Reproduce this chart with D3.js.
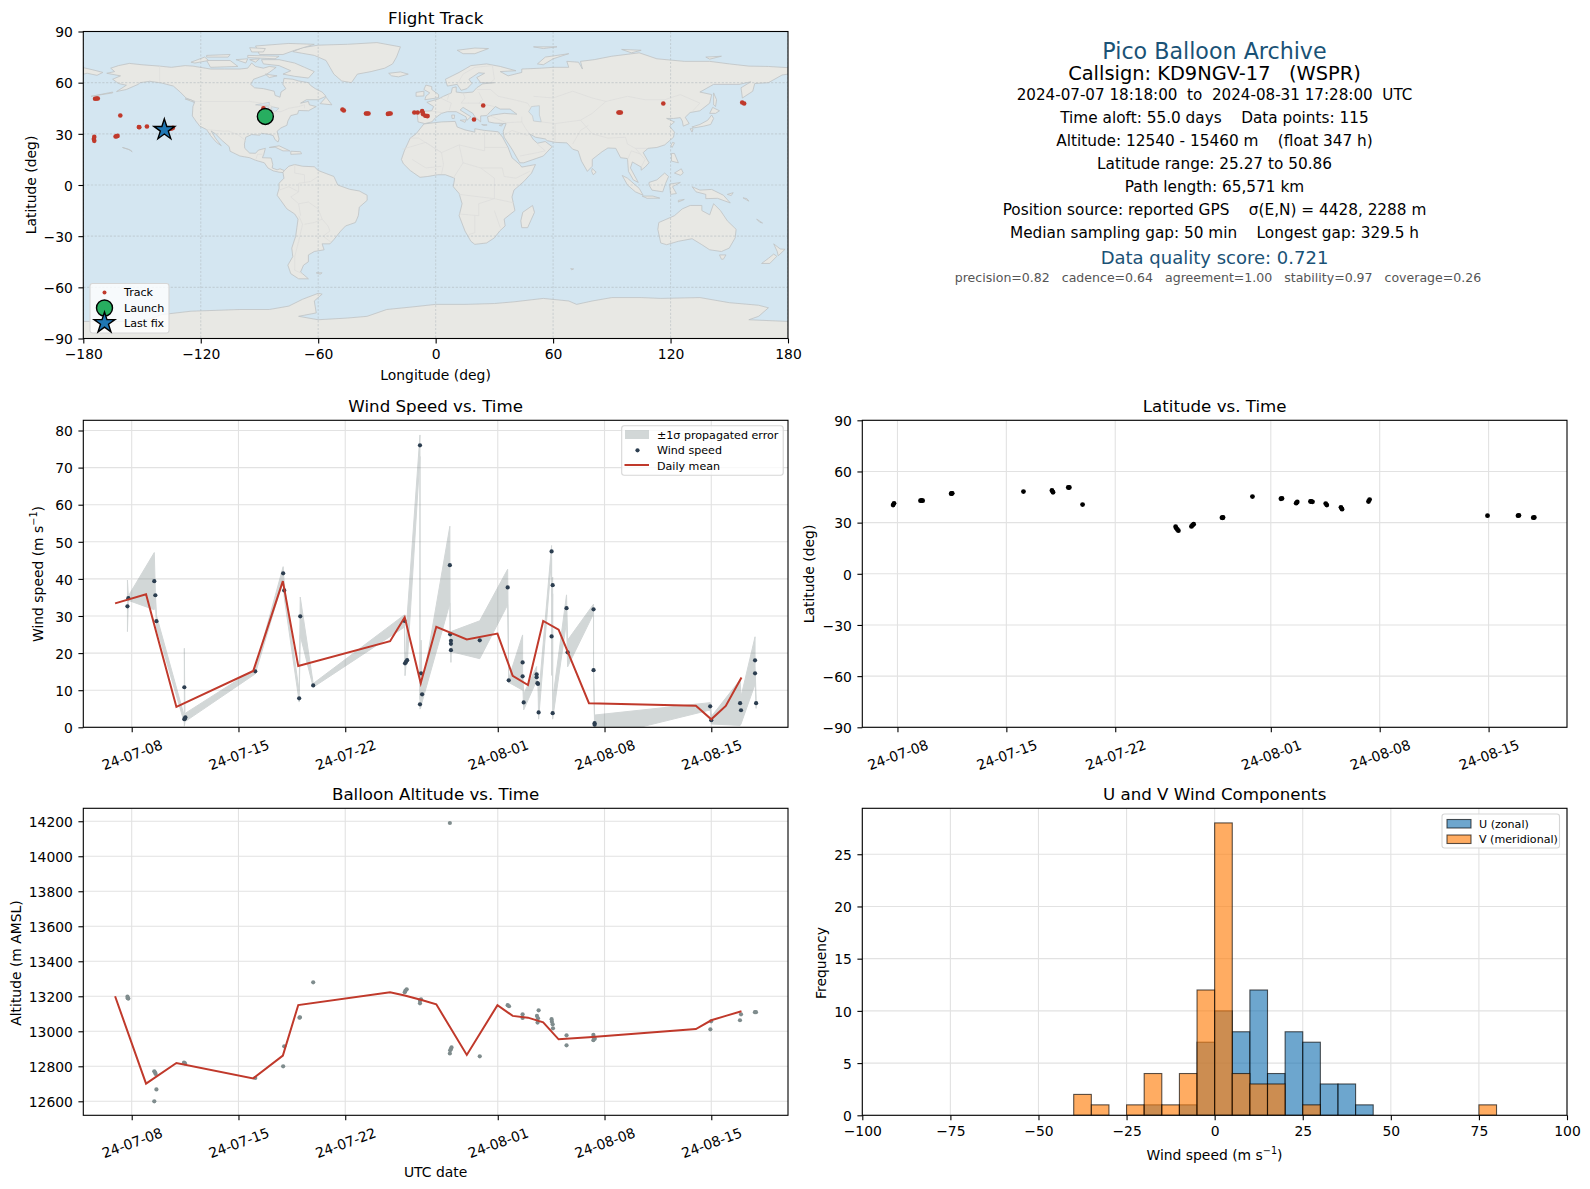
<!DOCTYPE html>
<html>
<head>
<meta charset="utf-8">
<script src="https://cdn.jsdelivr.net/npm/d3@7"></script>
<style>
  body { margin: 0; background: #fff; }
  text { font-family: "DejaVu Sans", sans-serif; fill: #000; white-space: pre; }
</style>
</head>
<body>
<div id="chart"></div>
<script>
// day numbers are days after 2024-07-01 00:00 UTC
const timeTicks = [7, 14, 21, 31, 38, 45];
const timeDomain = [3.826, 50.03];
const latTimeDomain = [4.74, 50.04];

// wind speed, one entry per fix
const windDay = [6.72, 6.78, 8.48, 8.55, 8.62, 10.45, 10.45, 10.49, 10.52, 15.1, 16.93, 17, 17.98, 18.05, 18.9, 24.88, 24.92, 24.99, 25.06, 25.9, 25.9, 25.97, 26.04, 27.86, 27.88, 27.93, 27.93, 27.93, 29.82, 31.65, 31.72, 32.63, 32.63, 32.7, 33.55, 33.55, 33.6, 33.64, 33.68, 34.53, 34.53, 34.6, 34.6, 35.51, 35.58, 37.28, 37.28, 37.35, 37.35, 44.93, 45, 46.89, 46.95, 47.87, 47.87, 47.94];
const windSpeed = [32.6, 34.8, 39.4, 35.6, 28.6, 2.2, 10.8, 2.4, 2.7, 15.1, 41.5, 36.9, 7.8, 29.9, 11.3, 28.7, 17.25, 17.7, 18.1, 76, 6.2, 14.55, 8.9, 43.7, 25.07, 23.3, 20.8, 22.5, 23.45, 37.7, 12.67, 17.5, 13.75, 6.7, 14.3, 13.5, 11.9, 11.7, 4, 47.4, 24.5, 38.3, 3.8, 32.1, 20.2, 31.8, 15.4, 1.1, 0.7, 5.66, 1.9, 6.5, 4.6, 18.06, 14.55, 6.5];
const windLow = [25.8, 34.2, 31.7, 34.8, 27, 1.2, 0.3, 1.4, 1.6, 14.4, 39.7, 35, 6.8, 24.7, 10.8, 27, 13.9, 17, 17, 73, 4.9, 5.5, 6.8, 33.4, 24, 22, 17.5, 20.4, 18.5, 33, 12.1, 10, 12.9, 4.7, 12.6, 12.6, 11.2, 11, 2.2, 45.5, 14, 36, 2.2, 28.5, 16.3, 30.6, 15, 0.2, -3, 4.67, 0.9, 0.5, 0.9, 11.6, 12.6, 5.1];
const windHigh = [39.7, 35.4, 47.1, 36.4, 30.2, 3, 21.3, 3.4, 3.8, 15.8, 43.3, 38.8, 9.6, 35.1, 11.8, 30.3, 20.6, 18.4, 30, 78.8, 7.5, 23.5, 10.8, 54.2, 26, 24.5, 24, 25.8, 28.7, 42.6, 13.2, 24.9, 14.6, 9, 16.4, 14.4, 12.6, 12.4, 8.3, 49, 35.2, 40.5, 7.4, 35.7, 23.5, 33.2, 15.9, 2, 3.3, 6.65, 2.9, 12.8, 8.3, 24.4, 16.5, 7.8];
const meanDay = [5.91, 7.94, 9.93, 14.97, 16.91, 17.92, 23.94, 24.9, 25.95, 26.97, 28.97, 30.98, 31.98, 32.98, 33.98, 34.99, 36.98, 43.99, 45, 45.95, 46.98];
const windMean = [33.4, 35.85, 5.5, 15.2, 39.4, 16.5, 23.2, 29.65, 11.9, 27.1, 23.7, 25.25, 13.9, 11.4, 28.66, 26.3, 6.5, 5.84, 2.15, 5.75, 13.4];
const windTicks = [0, 10, 20, 30, 40, 50, 60, 70, 80];

// latitude
const latDay = [6.72, 6.78, 8.48, 8.55, 8.62, 10.45, 10.49, 10.52, 15.1, 16.93, 17, 17.98, 18.05, 18.9, 24.88, 24.92, 24.99, 25.06, 25.9, 25.97, 26.04, 27.86, 27.9, 27.93, 29.82, 31.65, 31.72, 32.63, 32.7, 33.55, 33.6, 33.68, 34.53, 34.6, 35.51, 35.58, 37.28, 37.35, 44.93, 46.89, 46.95, 47.87, 47.94];
const latValue = [40.3, 41.3, 42.9, 43, 42.9, 47, 47.1, 47.2, 48.2, 48.9, 47.8, 50.6, 50.6, 40.6, 27.6, 26.8, 26, 25.3, 27.8, 28.5, 29.1, 32.9, 32.8, 33, 45.3, 44, 44.2, 41.4, 42.1, 42.4, 42.5, 42.2, 41.2, 40.3, 39, 37.9, 42.4, 43.5, 34.1, 34.1, 34.2, 32.9, 33];
const latTicks = [-90, -60, -30, 0, 30, 60, 90];

// altitude
const altDay = [6.72, 6.74, 6.78, 8.48, 8.53, 8.57, 8.62, 8.48, 10.49, 10.43, 15.1, 17, 16.93, 18.03, 18, 18.9, 24.9, 24.95, 25.03, 25.97, 25.9, 25.9, 27.86, 27.86, 27.88, 27.93, 27.97, 29.82, 31.65, 31.74, 32.63, 32.63, 33.57, 33.64, 33.61, 33.68, 34.53, 34.55, 34.6, 34.62, 35.51, 35.51, 37.27, 37.3, 37.27, 37.36, 44.94, 44.99, 46.88, 46.95, 47.86, 47.93];
const altValue = [13198, 13189, 13187, 12771, 12764, 12756, 12668, 12600, 12817, 12821, 12733, 12914, 12800, 13080, 13078, 13280, 13223, 13232, 13240, 13183, 13175, 13160, 14190, 12873, 12891, 12899, 12908, 12857, 13149, 13143, 13097, 13076, 13088, 13074, 13050, 13120, 13069, 13055, 13040, 13017, 12977, 12920, 12979, 12966, 12949, 12958, 13011, 13057, 13063, 13097, 13109, 13109];
const altMean = [13200, 12701, 12819, 12731, 12861, 13150, 13223, 13204, 13180, 13154, 12865, 13149, 13088, 13078, 13051, 12954, 12966, 13013, 13063, 13088, 13114];
const altTicks = [12600, 12800, 13000, 13200, 13400, 13600, 13800, 14000, 14200];

// wind component histogram, bins of 5 m/s starting at binStart
const binStart = [-100, -95, -90, -85, -80, -75, -70, -65, -60, -55, -50, -45, -40, -35, -30, -25, -20, -15, -10, -5, 0, 5, 10, 15, 20, 25, 30, 35, 40, 45, 50, 55, 60, 65, 70, 75, 80, 85, 90, 95];
const uCount = [0, 0, 0, 0, 0, 0, 0, 0, 0, 0, 0, 0, 0, 0, 0, 0, 1, 0, 1, 7, 10, 8, 12, 4, 8, 7, 3, 3, 1, 0, 0, 0, 0, 0, 0, 0, 0, 0, 0, 0];
const vCount = [0, 0, 0, 0, 0, 0, 0, 0, 0, 0, 0, 0, 2, 1, 0, 1, 4, 1, 4, 12, 28, 4, 3, 3, 0, 1, 0, 0, 0, 0, 0, 0, 0, 0, 0, 1, 0, 0, 0, 0];
const histXTicks = [-100, -75, -50, -25, 0, 25, 50, 75, 100];
const histYTicks = [0, 5, 10, 15, 20, 25];

// flight track
const trackLon = [-174, -173.2, -172.6, -161.1, -151.6, -151.4, -147.5, -135.4, -134.9, -134.2, -174.4, -174.6, -174.4, -163.5, -163, -162.5, -88, -47.6, -46.9, -35.6, -35, -34.3, -24.4, -23.7, -23, -10.9, -9.2, -6.9, -6.6, -6.4, -5.3, -4.6, -4.1, 19.6, 24.3, 93.4, 94, 94.6, 116.3, 156.6, 157.6];
const trackLat = [50.6, 50.7, 50.7, 40.75, 34, 33.9, 34.3, 33.1, 33.1, 33.5, 28.2, 27, 25.9, 28.4, 28.6, 28.8, 44.9, 44.3, 43.7, 41.9, 41.9, 41.9, 41.7, 41.9, 41.9, 42.5, 42.5, 43.3, 42.4, 41.5, 40.6, 40.5, 40.4, 38.4, 46.6, 42.5, 42.5, 42.5, 47.8, 48.4, 47.8];
const launchLon = [-87], launchLat = [40.2];
const lastLon = [-138.6], lastLat = [32.35];
const lonTicks = [-180, -120, -60, 0, 60, 120, 180];

// rough coastlines, [lon, lat]
const landShapes = [
  [[-168,65.5],[-164,66.5],[-166,68.5],[-162,70],[-156.5,71.3],[-150,70.5],[-141,69.7],[-135,69],[-128,70],[-124,69.7],[-115,68],[-108,68],[-100,68],[-96,68.5],[-94,71.5],[-92,69.5],[-88,68.5],[-85,69.5],[-81.5,69],[-85,66],[-87,64.5],[-93,62],[-94.5,59],[-92.5,57],[-88,56.5],[-82.5,55],[-82,52.5],[-79.5,51.5],[-79,54.5],[-76.5,56.5],[-78,59],[-77.5,62.5],[-73,62],[-70,61],[-65,60],[-64,58.5],[-61.5,56.5],[-58,54.5],[-56,52],[-60,50],[-66,50],[-69,48],[-65,49],[-64.5,47],[-61,46],[-65,43.5],[-70,43.7],[-70.5,41.7],[-74,40.7],[-75.5,37.5],[-76,35],[-79,33.5],[-81,31.5],[-80,27],[-80.5,25.2],[-82,26.5],[-83,29],[-85,29.7],[-89,30.3],[-90,29.2],[-94,29.6],[-97,28],[-97.7,24],[-97.5,21.5],[-95,18.7],[-92,18.6],[-90.5,20.5],[-87,21.5],[-87.8,18],[-88.5,16],[-84,15.8],[-83.2,12],[-83.5,10],[-81,8.9],[-79.5,9.5],[-77.3,8.5],[-78,7.3],[-80,7.5],[-83,8.3],[-85.7,10],[-87.5,13],[-92,14.5],[-95,16],[-100,17],[-105,19.8],[-105.5,22.5],[-109,26],[-112.5,30],[-114.7,31.7],[-112.5,27.5],[-109.5,23],[-112,25],[-115,29],[-117,32.5],[-120.5,34.5],[-122.5,37.5],[-124.3,40.5],[-124,46],[-123,49],[-127.5,51],[-130.5,54.5],[-134,58],[-140,59.8],[-146,60.8],[-151,60],[-152,59],[-158,56],[-163,54.8],[-158,58.5],[-162,59.5],[-165,62],[-161,64]],
  [[-73,78.2],[-68,80.5],[-60,82],[-45,82.5],[-30,83.5],[-18,81],[-20,75],[-22,71],[-26,68.5],[-33,66.5],[-40,65],[-43,60],[-48,61],[-52,65],[-54,69],[-56,73],[-62,76]],
  [[-80,73.5],[-72,71.5],[-67,69],[-62,66.5],[-65,62.7],[-72,63.7],[-78,65],[-74,67],[-80,70],[-88,71],[-89,73.5]],
  [[-117,73],[-105,73],[-101,69.5],[-115,69]],
  [[-125,72],[-118,75],[-116,73],[-123,71.5]],
  [[-90,76.5],[-78,76.5],[-72,79],[-62,82.5],[-75,83],[-92,81.5]],
  [[-96,76],[-80,75.5],[-82,74],[-96,74.7]],
  [[-117,76],[-105,76.5],[-106,75],[-117,75]],
  [[-95,80.5],[-87,80],[-88,78],[-94,78]],
  [[-87,65],[-81,64],[-85,63]],
  [[-102,73.5],[-96,74],[-97,71.5]],
  [[-95,73.5],[-90,74],[-92,72]],
  [[-128,50.5],[-125,50],[-123.5,48.5]],
  [[-176,52],[-165,54.5],[-165,54]],
  [[-59,47.7],[-56,51.5],[-53,47]],
  [[-85,22],[-80,23],[-74.5,20],[-78,20],[-82,22.2]],
  [[-74,19.8],[-69,19.5],[-68.5,18.3],[-74,18]],
  [[-160,22],[-157,21],[-155,19.5],[-156,20.5]],
  [[-77.3,8.5],[-75,11],[-72,12],[-68,11],[-62,10.7],[-60,8.5],[-52,5],[-50,0],[-44,-2.5],[-39,-3.5],[-35,-6],[-35,-9],[-39,-13],[-39.5,-18],[-41,-22],[-46,-24],[-48.5,-27],[-52,-32],[-54,-34.5],[-58,-34.5],[-57,-38],[-62,-39],[-65,-41],[-65,-45],[-67.5,-47],[-69,-51],[-65,-55],[-70,-55],[-74,-52],[-75.5,-47],[-73,-42],[-73.5,-37],[-71.5,-30],[-70.3,-20],[-72,-17],[-76,-14],[-81,-6],[-80,-2],[-80,1],[-77.5,4],[-78,7.3]],
  [[-61,-51.5],[-58,-51.5],[-59,-52.3]],
  [[-6,35.8],[3,37],[10,37.3],[11,34],[15,32.3],[20,31],[20,33],[25,32],[32,31.2],[34.2,28],[37,22],[39,16],[43,12],[44,10.5],[51,12],[49,7],[45,2],[40,-3],[39,-7],[40.5,-15],[35,-20],[35.5,-24],[32.7,-27],[30,-31],[26,-34],[20,-34.8],[18,-33],[15,-27],[12,-18],[13.5,-11],[12,-5],[9,-1],[9.7,4],[5,6],[1,6],[-4,5],[-8,4.5],[-13,8.5],[-16.5,12.5],[-17.5,15],[-16,20],[-13,27.5],[-10,30]],
  [[-9,37],[-9.5,43],[-2,43.5],[-1,46],[-4.5,48.5],[1.5,50.5],[4,52],[8,54],[8.5,57],[10.5,57.5],[10.5,54.5],[14,54],[19,54.5],[21,57],[24,59.3],[30,60],[23,60],[21,63],[25,65.5],[22,65.8],[17,62],[18.5,59.5],[16,56.5],[13,55.5],[11,59],[6,58],[5,62],[12,66],[18,70],[26,71],[33,69.5],[41,67],[33,66.5],[37,64],[44,66],[44,68],[54,68.5],[60,69],[68,69],[67,72.5],[73,72],[75,68],[74,72.5],[81,73.5],[90,75.5],[104,77.5],[113,74],[127,72.5],[140,72.5],[150,71],[160,69.7],[170,69.5],[180,68.8],[180,65],[177,64.5],[170,60],[163,59.5],[162,55],[156.7,51],[156,57],[161,60.5],[155,59],[142,59],[135,54.5],[141,53],[140,48],[135,43.5],[130,42.5],[127.5,39.7],[129.5,36],[126.5,34.5],[126,37.5],[125,39.5],[121.5,39],[118,39],[122,37],[119.5,34.5],[122,31],[121.5,28],[117,23.5],[113,22],[108.5,21.5],[106,19],[109,13],[107,10.5],[105,8.7],[105,10.5],[100.5,13.5],[99.5,10],[103.5,1.5],[101,3],[98.5,8],[98,15.5],[94.5,16],[92,21.5],[88,21.7],[85,19.5],[80,15],[80,11],[77.5,8],[74.5,14],[72.8,20],[70,21],[67,24.7],[61,25],[57,26],[56,27],[51,28],[48,30],[50,26.5],[52,24.5],[56,25.5],[59.5,22.5],[55,17],[45,13],[43,13],[39,21],[35,28],[34.5,31.5],[36,36],[30,36.3],[27,37],[26.5,40],[29,41],[35,42],[41.5,41.5],[38,44.5],[33,44.5],[30.5,46],[28,43],[26,40.7],[23,40.5],[23,37],[20,40],[19,42],[14,45.5],[12.5,44],[18,40],[16,38],[15.5,40],[10.5,43],[6,43],[3,42],[0,39.5],[-2,37],[-5.5,36]],
  [[-180,68.8],[-175,67.5],[-170,66],[-173,64.3],[-178,65.5],[-180,65]],
  [[-5.5,50],[1.5,51.2],[1.5,53],[-2,56],[-2,57.7],[-5,58.6],[-6,56],[-3,54],[-5,52]],
  [[-10,52],[-6,52.2],[-6,55],[-10,54.3]],
  [[-24,65.5],[-18,66.3],[-14,65],[-19,63.4],[-22.5,64]],
  [[11,79],[20,80.3],[27,80],[20,77],[14,77]],
  [[52,71],[56,75],[68,77],[60,74],[55,70.5]],
  [[138,75],[146,75.5],[140,73.8]],
  [[95,79.5],[105,79],[100,77.5]],
  [[50,81],[62,81],[55,80]],
  [[8.2,41],[9.7,41],[9.5,39],[8.4,39]],
  [[12.5,38],[15.6,38.2],[15,36.7]],
  [[23.5,35.5],[26.3,35.2],[24.5,34.9]],
  [[32.5,35],[34.5,35.6],[33.5,34.6]],
  [[49.5,-12],[50.5,-16],[47,-25],[44,-25],[43.5,-21],[44.5,-16]],
  [[69,-49],[70.5,-49.2],[69.5,-49.8]],
  [[80,9.7],[82,7.5],[80.5,6],[79.7,8]],
  [[130.9,34],[135,35.5],[139,38],[141,41],[142,39],[140.5,35.5],[137,34.5],[132,33.5]],
  [[130,33],[131.5,33],[131,31]],
  [[140,42],[141.5,45.5],[145,43.5],[143,42]],
  [[142,54],[143.5,50],[143,46],[142,47],[142,52]],
  [[121,25],[122,24.7],[120.8,22],[120.2,23]],
  [[120.5,18.5],[122,18.5],[124,13],[120.5,14]],
  [[122,7],[125.5,9.5],[126.5,7],[125,5.7]],
  [[95.3,5.6],[98,4],[104,-2],[106,-6],[102,-4],[98,0]],
  [[105.5,-6.5],[111,-6.5],[114.5,-7.7],[108,-7.8]],
  [[109,1.5],[113,3],[117,7],[119,5],[117.5,1],[116,-4],[110.5,-3],[109,0]],
  [[119.5,0.5],[125,1.5],[121,-1],[123,-5],[120,-5.5]],
  [[124,-9],[127,-8.5],[124,-10]],
  [[131,-1],[135,-3],[141,-2.6],[147,-6],[150.5,-10.5],[144,-7.8],[138,-8],[138,-5.5],[133,-4]],
  [[149,-5.5],[152,-4.5],[151,-6.2]],
  [[157,-7.5],[160,-9.5],[159,-8]],
  [[164,-20],[167,-22.3],[165.5,-21.8]],
  [[114,-22],[122,-18],[126,-14],[130,-12],[136,-12],[136,-15],[140,-17.5],[142,-11],[145.5,-15],[149,-21],[153.5,-26],[153,-31],[150,-37],[146,-39],[140,-38],[136,-35],[131,-31.5],[124,-33],[118,-35],[115,-34],[113.5,-26]],
  [[145,-41],[148.3,-41],[147,-43.5],[146,-43.5]],
  [[172.7,-34.5],[176,-37.5],[178.5,-37.7],[175,-41.5],[174.5,-39]],
  [[172.7,-40.5],[174.3,-41.8],[170.7,-46],[166.5,-46],[170,-43]],
  [[-180,-80],[-150,-80],[-140,-76],[-125,-74],[-100,-73],[-85,-73],[-75,-71],[-68,-67],[-60,-63.5],[-58,-64],[-62,-68],[-61,-75],[-70,-77],[-60,-79],[-45,-78],[-35,-77],[-25,-73],[-12,-71.5],[0,-70],[15,-70],[30,-69.5],[40,-68.5],[55,-66.5],[68,-68],[72,-70],[80,-68],[90,-66],[105,-66],[115,-66.5],[135,-66],[150,-69],[165,-70.5],[170,-72],[165,-77],[160,-79],[180,-80],[180,-90],[-180,-90]]
];
const lakeShapes = [
  [[49,46],[53,46.5],[53,41],[54,37],[50,37.5],[49.5,40.5],[47.5,43]],
  [[-92,47],[-85,48.5],[-85,46.7],[-90,46.7]],
  [[-87.5,46],[-85,45.8],[-86,42],[-87.5,42]],
  [[-84,46],[-80,45],[-82,43],[-84,44]]
];
const borderLines = [
  [[-123,49],[-95,49],[-89,48],[-84,46.5],[-82.5,43],[-79,43],[-75,45],[-70,46],[-67,47],[-67,45]],
  [[-141,69.7],[-141,60]],
  [[-117,32.5],[-108,31.5],[-106,31.7],[-101,29.5],[-97,26]],
  [[-92,14.5],[-91,18],[-88.5,18]],
  [[-60,5],[-64,2],[-70,1],[-70,-4],[-74,-7],[-70,-11],[-65,-10],[-60,-14],[-58,-20],[-55,-24],[-54,-27],[-57.5,-30],[-53.5,-33.5]],
  [[-70,-18],[-68,-23],[-70,-33],[-72,-42],[-72,-50],[-68,-52]],
  [[-70,-11],[-69,-18]],
  [[-58,-20],[-62,-22],[-67,-23]],
  [[-80,-3],[-75,-1],[-70,-4]],
  [[-72,12],[-72,7],[-67,6],[-67,1]],
  [[-8.7,27.5],[3,19],[12,23.5],[25,20],[25,31.5]],
  [[25,22],[37,22]],
  [[3,19],[4,12],[3,6.5]],
  [[12,23.5],[14,13],[9,4]],
  [[14,13],[23,10],[34,10],[35,5],[41,4],[48,8]],
  [[23,10],[30,4],[30,-8],[12,-5.5]],
  [[30,-8],[22,-11],[22,-18],[12,-17]],
  [[20,-18],[20,-28],[17,-29]],
  [[40,-10.5],[30,-8]],
  [[30,-15],[33,-25]],
  [[-13,27.5],[-8.7,27.5]],
  [[-17,21],[-5,25],[3,19]],
  [[-12,15],[-5,10],[3,11]],
  [[28,56],[32,52],[40,50],[47,48],[48,46]],
  [[50,52],[60,51],[70,55],[80,51],[87,49]],
  [[87,49],[98,52],[107,50],[117,50],[125,53],[135,48],[131,43]],
  [[74,38],[80,30],[88,27.5],[97,28],[98,24],[102,21.5],[108,21.5]],
  [[74,38],[80,42],[87,49]],
  [[61,25],[61,36],[54,37]],
  [[61,36],[74,38]],
  [[70,24],[74,32],[78,35]],
  [[26,41.5],[36,36.5],[44,37],[44,40]],
  [[44,37],[46,33],[48,30]],
  [[35,29],[39,32],[47,29]],
  [[52,24],[56,20],[52,19],[43,17]],
  [[-2,43.3],[3,42.5]],
  [[2.5,51],[8,48],[7,44]],
  [[7,54],[6,50]],
  [[14,54],[15,51],[13,48],[17,48],[22,48],[30,46]],
  [[22,54.5],[24,50],[22,48]],
  [[28,56],[21,56]],
  [[11,59],[14,65],[20,69],[29,70],[30,62],[28,60]],
  [[102,21.5],[107,15],[105,10.5]],
  [[98,15],[100,20],[105,18]]
];

// summary panel
const infoLines = [
  ["Pico Balloon Archive", 22.2, "#1a5276", 50.6, 1214.5],
  ["Callsign: KD9NGV-17   (WSPR)", 19.4, "#000", 73.3, 1214.5],
  ["2024-07-07 18:18:00  to  2024-08-31 17:28:00  UTC", 15.15, "#000", 94.8, 1214.5],
  ["Time aloft: 55.0 days    Data points: 115", 15.3, "#000", 117.6, 1214.5],
  ["Altitude: 12540 - 15460 m    (float 347 h)", 15.3, "#000", 140.7, 1214.5],
  ["Latitude range: 25.27 to 50.86", 15.3, "#000", 163.8, 1214.5],
  ["Path length: 65,571 km", 15.3, "#000", 186.7, 1214.5],
  ["Position source: reported GPS    σ(E,N) = 4428, 2288 m", 15.3, "#000", 209.8, 1214.5],
  ["Median sampling gap: 50 min    Longest gap: 329.5 h", 15.3, "#000", 232.8, 1214.5],
  ["Data quality score: 0.721", 18, "#1a5276", 257.3, 1214.5],
  ["precision=0.82   cadence=0.64   agreement=1.00   stability=0.97   coverage=0.26", 12.55, "#555", 277.5, 1218]
];

const RED = "#c0392b", NAVY = "#2c3e50", GRAY = "#7f8c8d";
const dayToDate = (d) => new Date(Date.UTC(2024, 6, 1) + d * 864e5);
const minus = (s) => String(s).replace("-", "\u2212");
const zipXY = (a, b) => a.map((v, i) => [v, b[i]]);

const svg = d3.select("#chart").append("svg").attr("width", 1590).attr("height", 1189);

// one set of axes; returns the group and scales, ticks are styled the matplotlib way
function panel(name, box, xScale, yScale, opts) {
  xScale.range([box.x, box.x + box.w]);
  yScale.range([box.y + box.h, box.y]);
  const g = svg.append("g").attr("class", name);
  const clipId = "clip-" + name;
  svg.append("clipPath").attr("id", clipId).append("rect")
    .attr("x", box.x).attr("y", box.y).attr("width", box.w).attr("height", box.h);

  const back = g.append("g");
  const plot = g.append("g").attr("clip-path", `url(#${clipId})`);
  const dash = opts.gridDash || null;

  const drawGrid = (target) => {
    target.selectAll(".vgrid").data(opts.xTicks).enter().append("line").attr("class", "vgrid")
      .attr("x1", (d) => xScale(opts.xVal(d))).attr("x2", (d) => xScale(opts.xVal(d)))
      .attr("y1", box.y).attr("y2", box.y + box.h)
      .attr("stroke", opts.gridColor || "#e2e2e2").attr("stroke-width", 1.1).attr("stroke-dasharray", dash);
    target.selectAll(".hgrid").data(opts.yTicks).enter().append("line").attr("class", "hgrid")
      .attr("y1", (d) => yScale(d)).attr("y2", (d) => yScale(d))
      .attr("x1", box.x).attr("x2", box.x + box.w)
      .attr("stroke", opts.gridColor || "#e2e2e2").attr("stroke-width", 1.1).attr("stroke-dasharray", dash);
  };

  const front = g.append("g");
  const xAxis = d3.axisBottom(xScale).tickValues(opts.xTicks.map(opts.xVal)).tickFormat(opts.xFormat).tickSize(4.9).tickPadding(6);
  const yAxis = d3.axisLeft(yScale).tickValues(opts.yTicks).tickFormat(minus).tickSize(4.9).tickPadding(5.5);
  const xg = front.append("g").attr("transform", `translate(0,${box.y + box.h})`).call(xAxis);
  const yg = front.append("g").attr("transform", `translate(${box.x},0)`).call(yAxis);
  front.selectAll(".domain").remove();
  front.selectAll(".tick line").attr("stroke", "#000").attr("stroke-width", 1.1);
  front.selectAll(".tick text").attr("font-size", 13.9).attr("font-family", "DejaVu Sans").attr("fill", "#000");
  yg.selectAll(".tick text").attr("dy", "0.38em");
  if (opts.rotate) {
    xg.selectAll(".tick text")
      .attr("text-anchor", "middle")
      .attr("dy", null)
      .attr("y", null)
      .attr("dominant-baseline", "central")
      .attr("transform", "translate(0,27.5) rotate(-20)");
  }
  front.append("rect").attr("x", box.x).attr("y", box.y).attr("width", box.w).attr("height", box.h)
    .attr("fill", "none").attr("stroke", "#000").attr("stroke-width", 1.1);
  front.append("text").attr("x", box.x + box.w / 2).attr("y", box.y - 8).attr("text-anchor", "middle")
    .attr("font-size", 16.67).text(opts.title);

  return { g, back, plot, front, drawGrid, box };
}

function yLabel(x, yMid, text, sup) {
  const t = svg.append("text").attr("transform", `translate(${x},${yMid}) rotate(-90)`)
    .attr("text-anchor", "middle").attr("font-size", 13.9).attr("dominant-baseline", "central").text(text);
  if (sup) t.append("tspan").attr("font-size", 9.7).attr("dy", -5).text(sup).call(closeParen);
}
function closeParen(sel) {
  const parent = d3.select(sel.node().parentNode);
  parent.append("tspan").attr("dy", 5).text(")");
}
function xLabel(xMid, y, text, sup) {
  const t = svg.append("text").attr("x", xMid).attr("y", y).attr("text-anchor", "middle")
    .attr("font-size", 13.9).attr("dominant-baseline", "central").text(text);
  if (sup) t.append("tspan").attr("font-size", 9.7).attr("dy", -5).text(sup).call(closeParen);
}

function legendBox(x, y, w, h) {
  svg.append("rect").attr("x", x).attr("y", y).attr("width", w).attr("height", h).attr("rx", 2.5)
    .attr("fill", "#fff").attr("fill-opacity", 0.8).attr("stroke", "#d6d6d6").attr("stroke-width", 1.1);
}
function legendText(x, y, text) {
  svg.append("text").attr("x", x).attr("y", y).attr("font-size", 11.1).attr("dominant-baseline", "central")
    .attr("fill", "#222").text(text);
}

const leftX = 83.3, rightX = 862.3, panelW = 704.7, panelH = 307;

// ---- flight track map
const lonScale = d3.scaleLinear().domain([-180, 180]);
const latScale = d3.scaleLinear().domain([-90, 90]);
const mapPanel = panel("map", { x: leftX, y: 31.5, w: panelW, h: panelH }, lonScale, latScale, {
  title: "Flight Track", xTicks: lonTicks, xVal: (d) => d, xFormat: minus, yTicks: latTicks,
  gridDash: "2.2,1.6", gridColor: "#aeb6ba"
});
const mapLine = d3.line().x((d) => lonScale(d[0])).y((d) => latScale(d[1]));
mapPanel.plot.append("rect").attr("x", leftX).attr("y", 31.5).attr("width", panelW).attr("height", panelH).attr("fill", "#d4e6f1");
mapPanel.plot.selectAll(".land").data(landShapes).enter().append("path").attr("class", "land")
  .attr("d", (d) => mapLine(d) + "Z").attr("fill", "#e8e8e4").attr("stroke", "#bfc3c4").attr("stroke-width", 0.8);
mapPanel.plot.selectAll(".lake").data(lakeShapes).enter().append("path").attr("class", "lake")
  .attr("d", (d) => mapLine(d) + "Z").attr("fill", "#d4e6f1").attr("stroke", "#bfc3c4").attr("stroke-width", 0.6);
mapPanel.plot.selectAll(".border").data(borderLines).enter().append("path").attr("class", "border")
  .attr("d", mapLine).attr("fill", "none").attr("stroke", "#dcdcdb").attr("stroke-width", 0.7);
const mapGrid = mapPanel.plot.append("g");
mapPanel.drawGrid(mapGrid);
mapGrid.attr("opacity", 0.45);
mapPanel.plot.selectAll(".track").data(zipXY(trackLon, trackLat)).enter().append("circle").attr("class", "track")
  .attr("cx", (d) => lonScale(d[0])).attr("cy", (d) => latScale(d[1])).attr("r", 2.3).attr("fill", RED);
mapPanel.plot.selectAll(".launch").data(zipXY(launchLon, launchLat)).enter().append("circle")
  .attr("cx", (d) => lonScale(d[0])).attr("cy", (d) => latScale(d[1])).attr("r", 8)
  .attr("fill", "#27ae60").attr("stroke", "#000").attr("stroke-width", 1.4);
const star = d3.symbol().type(d3.symbolStar).size(135);
mapPanel.plot.selectAll(".last").data(zipXY(lastLon, lastLat)).enter().append("path")
  .attr("transform", (d) => `translate(${lonScale(d[0])},${latScale(d[1])})`).attr("d", star)
  .attr("fill", "#1f77b4").attr("stroke", "#000").attr("stroke-width", 1.4);
yLabel(30.5, 185, "Latitude (deg)");
xLabel(435.6, 375, "Longitude (deg)");

legendBox(90, 283.5, 79, 49.5);
svg.append("circle").attr("cx", 104.5).attr("cy", 292.5).attr("r", 2).attr("fill", RED);
svg.append("circle").attr("cx", 104.5).attr("cy", 308).attr("r", 8).attr("fill", "#27ae60").attr("stroke", "#000").attr("stroke-width", 1.4);
svg.append("path").attr("transform", "translate(104.5,323)").attr("d", star).attr("fill", "#1f77b4").attr("stroke", "#000").attr("stroke-width", 1.4);
legendText(124, 292.5, "Track");
legendText(124, 308, "Launch");
legendText(124, 323, "Last fix");

// ---- summary text
svg.selectAll(".info").data(infoLines).enter().append("text").attr("class", "info")
  .attr("x", (d) => d[4]).attr("y", (d) => d[3]).attr("text-anchor", "middle").attr("dominant-baseline", "central")
  .attr("font-size", (d) => d[1]).style("fill", (d) => d[2]).text((d) => d[0]);

// ---- wind speed
const timeFormat = d3.utcFormat("%y-%m-%d");
const xWind = d3.scaleUtc().domain(timeDomain.map(dayToDate));
const yWind = d3.scaleLinear().domain([0, 82.75]);
const windPanel = panel("wind", { x: leftX, y: 420.3, w: panelW, h: panelH }, xWind, yWind, {
  title: "Wind Speed vs. Time", xTicks: timeTicks, xVal: dayToDate, xFormat: timeFormat, yTicks: windTicks, rotate: true
});
windPanel.drawGrid(windPanel.back);
const band = d3.area().x((i) => xWind(dayToDate(windDay[i]))).y0((i) => yWind(windLow[i])).y1((i) => yWind(windHigh[i]));
// opacity on the whole path so the edge and the fill do not add up
windPanel.plot.append("path").datum(d3.range(windDay.length)).attr("d", band)
  .attr("fill", GRAY).attr("stroke", GRAY).attr("stroke-width", 1).attr("opacity", 0.35);
windPanel.plot.selectAll(".pt").data(zipXY(windDay, windSpeed)).enter().append("circle").attr("class", "pt")
  .attr("cx", (d) => xWind(dayToDate(d[0]))).attr("cy", (d) => yWind(d[1])).attr("r", 2.1).attr("fill", NAVY);
const windMeanLine = d3.line().x((d) => xWind(dayToDate(d[0]))).y((d) => yWind(d[1]));
windPanel.plot.append("path").datum(zipXY(meanDay, windMean)).attr("d", windMeanLine)
  .attr("fill", "none").attr("stroke", RED).attr("stroke-width", 2);
yLabel(37.5, 574, "Wind speed (m s", "\u22121");

legendBox(621.7, 425.7, 161.5, 49.5);
svg.append("rect").attr("x", 625).attr("y", 430).attr("width", 24).attr("height", 9).attr("fill", GRAY).attr("fill-opacity", 0.35);
svg.append("circle").attr("cx", 637.5).attr("cy", 450.3).attr("r", 2.1).attr("fill", NAVY);
svg.append("line").attr("x1", 624.5).attr("x2", 649).attr("y1", 465).attr("y2", 465).attr("stroke", RED).attr("stroke-width", 2);
legendText(657, 435, "\u00b11\u03c3 propagated error");
legendText(657, 450.3, "Wind speed");
legendText(657, 466, "Daily mean");

// ---- latitude
const xLat = d3.scaleUtc().domain(latTimeDomain.map(dayToDate));
const yLat = d3.scaleLinear().domain([-90, 90]);
const latPanel = panel("lat", { x: rightX, y: 420.3, w: panelW, h: panelH }, xLat, yLat, {
  title: "Latitude vs. Time", xTicks: timeTicks, xVal: dayToDate, xFormat: timeFormat, yTicks: latTicks, rotate: true
});
latPanel.drawGrid(latPanel.back);
latPanel.plot.selectAll(".pt").data(zipXY(latDay, latValue)).enter().append("circle").attr("class", "pt")
  .attr("cx", (d) => xLat(dayToDate(d[0]))).attr("cy", (d) => yLat(d[1])).attr("r", 2.4).attr("fill", "#000");
yLabel(809, 574, "Latitude (deg)");

// ---- altitude
const xAlt = d3.scaleUtc().domain(timeDomain.map(dayToDate));
const yAlt = d3.scaleLinear().domain([12520, 14274]);
const altPanel = panel("alt", { x: leftX, y: 808.3, w: panelW, h: panelH }, xAlt, yAlt, {
  title: "Balloon Altitude vs. Time", xTicks: timeTicks, xVal: dayToDate, xFormat: timeFormat, yTicks: altTicks, rotate: true
});
altPanel.drawGrid(altPanel.back);
altPanel.plot.selectAll(".pt").data(zipXY(altDay, altValue)).enter().append("circle").attr("class", "pt")
  .attr("cx", (d) => xAlt(dayToDate(d[0]))).attr("cy", (d) => yAlt(d[1])).attr("r", 2.1).attr("fill", GRAY);
const altLine = d3.line().x((d) => xAlt(dayToDate(d[0]))).y((d) => yAlt(d[1]));
altPanel.plot.append("path").datum(zipXY(meanDay, altMean)).attr("d", altLine)
  .attr("fill", "none").attr("stroke", RED).attr("stroke-width", 2);
yLabel(16, 963, "Altitude (m AMSL)");
xLabel(435.6, 1172, "UTC date");

// ---- U and V histogram
const xHist = d3.scaleLinear().domain([-100, 100]);
const yHist = d3.scaleLinear().domain([0, 29.4]);
const histPanel = panel("hist", { x: rightX, y: 808.3, w: panelW, h: panelH }, xHist, yHist, {
  title: "U and V Wind Components", xTicks: histXTicks, xVal: (d) => d, xFormat: minus, yTicks: histYTicks
});
histPanel.drawGrid(histPanel.back);
const drawBars = (counts, color) => {
  histPanel.plot.append("g").selectAll("rect").data(binStart).enter().append("rect")
    .attr("x", (d) => xHist(d)).attr("width", (d) => xHist(d + 5) - xHist(d))
    .attr("y", (d, i) => yHist(counts[i])).attr("height", (d, i) => yHist(0) - yHist(counts[i]))
    .attr("fill", color).attr("fill-opacity", 0.65).attr("stroke", "#000").attr("stroke-opacity", 0.65).attr("stroke-width", 1.1);
};
drawBars(uCount, "#1f77b4");
drawBars(vCount, "#ff7f0e");
yLabel(821, 963, "Frequency");
xLabel(1214.5, 1155, "Wind speed (m s", "\u22121");

legendBox(1442, 814, 117.5, 34);
[["#1f77b4", "U (zonal)", 819.5], ["#ff7f0e", "V (meridional)", 835]].forEach(([c, label, y]) => {
  svg.append("rect").attr("x", 1447).attr("y", y).attr("width", 24).attr("height", 8.5)
    .attr("fill", c).attr("fill-opacity", 0.65).attr("stroke", "#000").attr("stroke-opacity", 0.65).attr("stroke-width", 1.1);
  legendText(1479, y + 4.5, label);
});
</script>
</body>
</html>
